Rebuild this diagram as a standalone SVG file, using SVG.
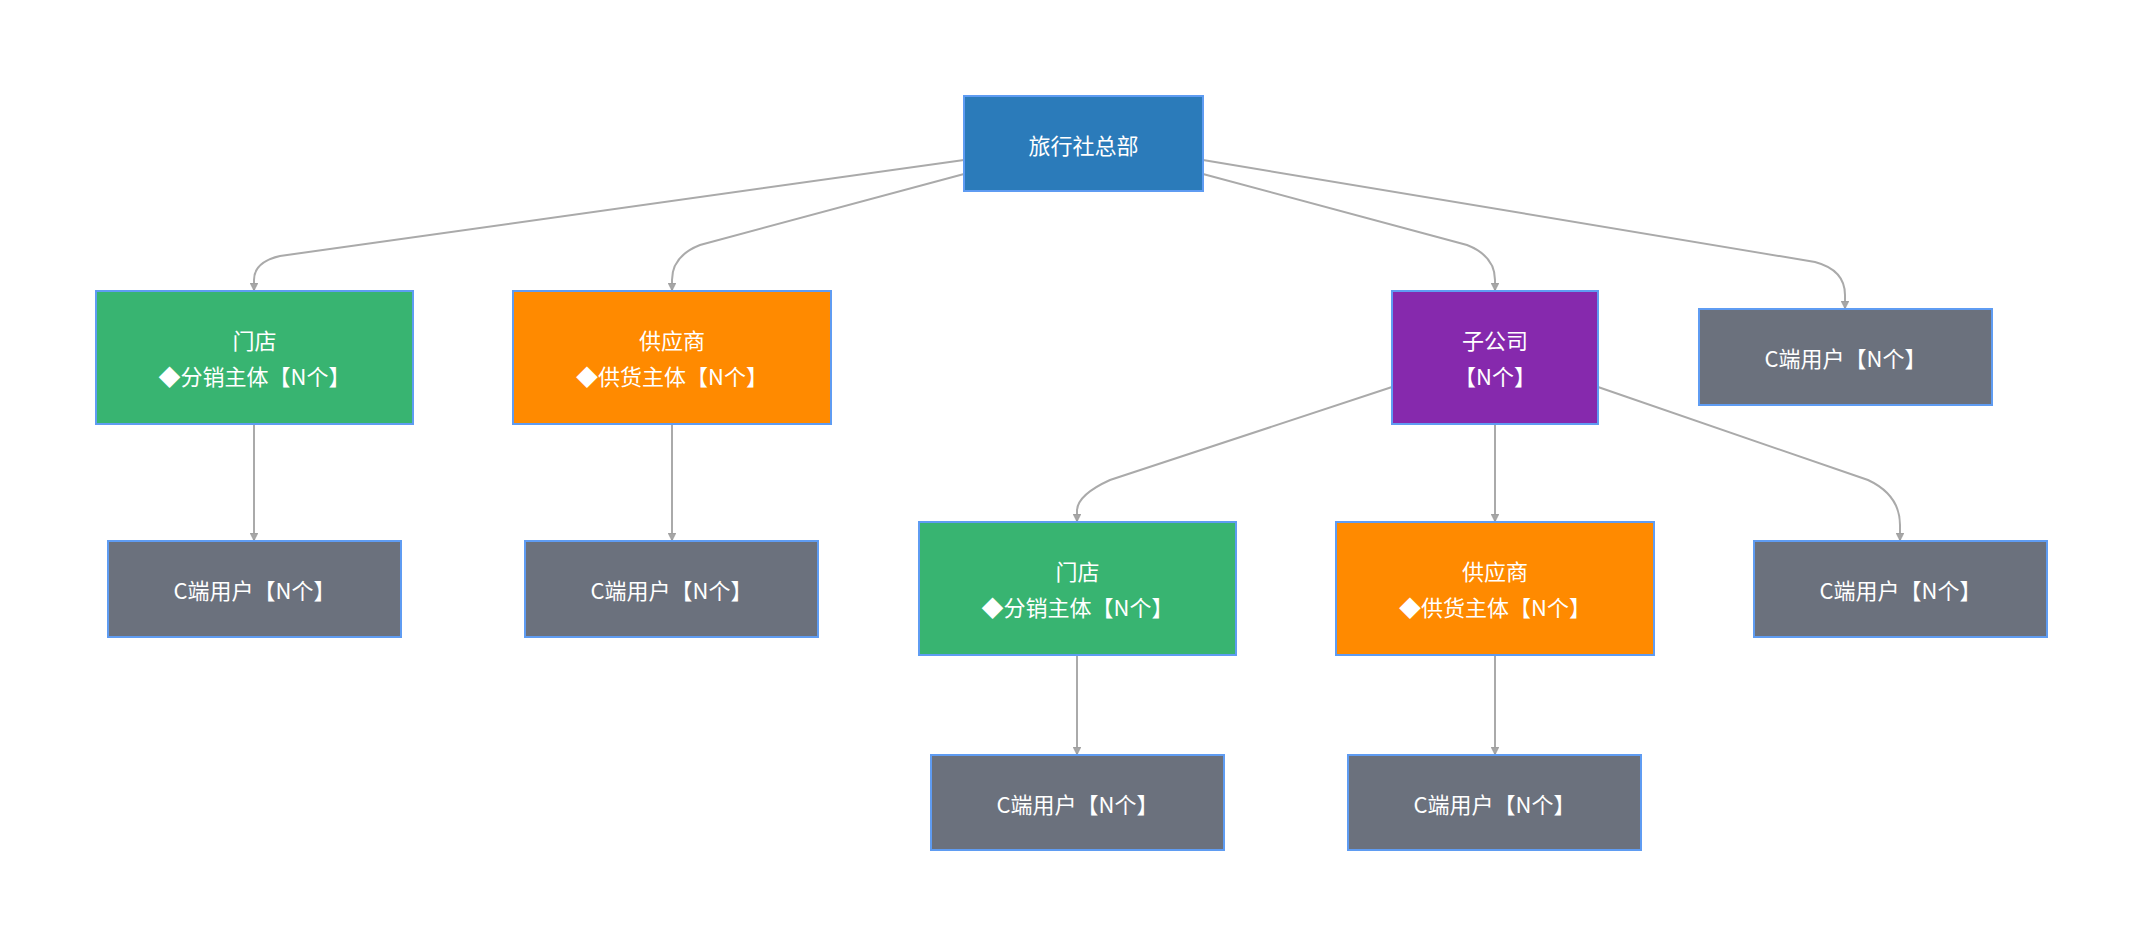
<svg xmlns="http://www.w3.org/2000/svg" width="2144" height="948" viewBox="0 0 2144 948">
<style>
.n{stroke:#5f9cf2;stroke-width:2}
.t{font-family:"Noto Sans CJK SC","Liberation Sans",sans-serif;font-size:22px;fill:#fff;text-anchor:middle;dominant-baseline:central}
.e{fill:none;stroke:#aaaaaa;stroke-width:2}
</style>
<defs><marker id="a" viewBox="0 0 10 10" refX="10" refY="5" markerWidth="8" markerHeight="8" orient="auto" markerUnits="userSpaceOnUse"><path d="M0,0L10,5L0,10z" fill="#a6a6a6" stroke="#888" stroke-width="0.5"/></marker></defs>
<rect width="2144" height="948" fill="#fff"/>
<g id="edges">
<path class="e" marker-end="url(#a)" d="M964,160 L280,256 Q254,262 254,280 L254,291"/>
<path class="e" marker-end="url(#a)" d="M964,174 L700,245 Q672,256 672,280 L672,291"/>
<path class="e" marker-end="url(#a)" d="M1203,174 L1467,245 Q1495,256 1495,280 L1495,291"/>
<path class="e" marker-end="url(#a)" d="M1203,160 L1815,262 Q1845,270 1845,295 L1845,309"/>
<path class="e" marker-end="url(#a)" d="M1392,387 L1110,480 Q1077,495 1077,511 L1077,522"/>
<path class="e" marker-end="url(#a)" d="M1495,424 L1495,522"/>
<path class="e" marker-end="url(#a)" d="M1598,387 L1868,480 Q1900,495 1900,525 L1900,541"/>
<path class="e" marker-end="url(#a)" d="M254,424 L254,541"/>
<path class="e" marker-end="url(#a)" d="M672,424 L672,541"/>
<path class="e" marker-end="url(#a)" d="M1077,655 L1077,755"/>
<path class="e" marker-end="url(#a)" d="M1495,655 L1495,755"/>
</g>
<g id="hq"><rect class="n" x="964" y="96" width="239" height="95" fill="#2b7bba"/><text class="t" x="1083.5" y="143.5">旅行社总部</text></g>
<g id="store1"><rect class="n" x="96" y="291" width="317" height="133" fill="#38b471"/><text class="t" x="254.5" y="339">门店</text><text class="t" x="254.5" y="375">◆分销主体【N个】</text></g>
<g id="sup1"><rect class="n" x="513" y="291" width="318" height="133" fill="#ff8a00"/><text class="t" x="672" y="339">供应商</text><text class="t" x="672" y="375">◆供货主体【N个】</text></g>
<g id="sub"><rect class="n" x="1392" y="291" width="206" height="133" fill="#8629ad"/><text class="t" x="1495" y="339">子公司</text><text class="t" x="1495" y="375">【N个】</text></g>
<g id="c0"><rect class="n" x="1699" y="309" width="293" height="96" fill="#6b717d"/><text class="t" x="1845.5" y="357">C端用户【N个】</text></g>
<g id="c1"><rect class="n" x="108" y="541" width="293" height="96" fill="#6b717d"/><text class="t" x="254.5" y="589">C端用户【N个】</text></g>
<g id="c2"><rect class="n" x="525" y="541" width="293" height="96" fill="#6b717d"/><text class="t" x="671.5" y="589">C端用户【N个】</text></g>
<g id="store2"><rect class="n" x="919" y="522" width="317" height="133" fill="#38b471"/><text class="t" x="1077.5" y="570">门店</text><text class="t" x="1077.5" y="606">◆分销主体【N个】</text></g>
<g id="sup2"><rect class="n" x="1336" y="522" width="318" height="133" fill="#ff8a00"/><text class="t" x="1495" y="570">供应商</text><text class="t" x="1495" y="606">◆供货主体【N个】</text></g>
<g id="c3"><rect class="n" x="1754" y="541" width="293" height="96" fill="#6b717d"/><text class="t" x="1900.5" y="589">C端用户【N个】</text></g>
<g id="c4"><rect class="n" x="931" y="755" width="293" height="95" fill="#6b717d"/><text class="t" x="1077.5" y="802.5">C端用户【N个】</text></g>
<g id="c5"><rect class="n" x="1348" y="755" width="293" height="95" fill="#6b717d"/><text class="t" x="1494.5" y="802.5">C端用户【N个】</text></g>
</svg>
